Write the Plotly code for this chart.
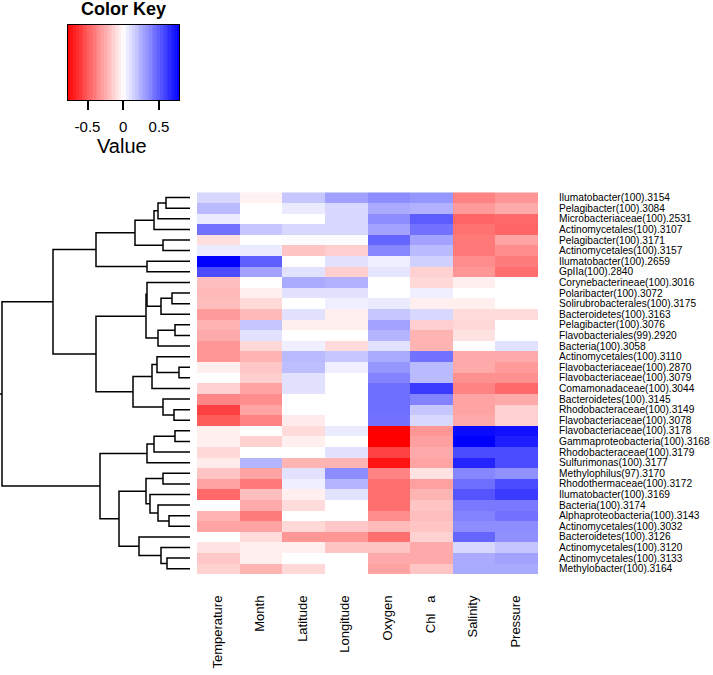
import numpy as np
import plotly.graph_objects as go

W, H = 713, 675


def px(x):
    return x / W


def py(y):
    return 1 - y / H


columns = ["Temperature", "Month", "Latitude", "Longitude", "Oxygen", "Chl   a", "Salinity", "Pressure"]

rows = [
    "Ilumatobacter(100).3154", "Pelagibacter(100).3084", "Microbacteriaceae(100).2531",
    "Actinomycetales(100).3107", "Pelagibacter(100).3171", "Actinomycetales(100).3157",
    "Ilumatobacter(100).2659", "GpIIa(100).2840", "Corynebacterineae(100).3016",
    "Polaribacter(100).3072", "Solirubrobacterales(100).3175", "Bacteroidetes(100).3163",
    "Pelagibacter(100).3076", "Flavobacteriales(99).2920", "Bacteria(100).3058",
    "Actinomycetales(100).3110", "Flavobacteriaceae(100).2870", "Flavobacteriaceae(100).3079",
    "Comamonadaceae(100).3044", "Bacteroidetes(100).3145", "Rhodobacteraceae(100).3149",
    "Flavobacteriaceae(100).3078", "Flavobacteriaceae(100).3178", "Gammaproteobacteria(100).3168",
    "Rhodobacteraceae(100).3179", "Sulfurimonas(100).3177", "Methylophilus(97).3170",
    "Rhodothermaceae(100).3172", "Ilumatobacter(100).3169", "Bacteria(100).3174",
    "Alphaproteobacteria(100).3143", "Actinomycetales(100).3032", "Bacteroidetes(100).3126",
    "Actinomycetales(100).3120", "Actinomycetales(100).3133", "Methylobacter(100).3164",
]

temperature = [0.12, 0.21, 0.06, 0.43, -0.10, 0.06, 0.78, 0.55, -0.20, -0.21, -0.20, -0.31,
               -0.23, -0.26, -0.32, -0.32, -0.05, 0.00, -0.14, -0.37, -0.58, -0.50, -0.05, -0.05,
               -0.12, -0.06, -0.18, -0.28, -0.46, 0.00, -0.23, -0.28, 0.00, -0.09, -0.17, -0.14]
month = [-0.04, 0.00, 0.00, 0.17, 0.00, 0.06, 0.49, 0.28, 0.00, -0.05, -0.12, -0.21,
         0.18, 0.09, -0.12, -0.23, -0.17, -0.15, -0.28, -0.35, -0.28, -0.38, 0.00, -0.14,
         0.00, 0.23, -0.28, -0.41, -0.20, -0.26, -0.40, -0.28, -0.11, -0.05, -0.05, -0.23]
latitude = [0.17, 0.06, 0.00, 0.12, 0.01, -0.18, 0.00, 0.09, 0.26, 0.09, 0.00, 0.09,
            -0.05, 0.00, 0.05, 0.21, 0.20, 0.09, 0.09, 0.00, 0.00, -0.06, -0.11, -0.05,
            0.00, -0.23, 0.09, 0.05, -0.05, -0.11, 0.00, -0.12, -0.32, -0.05, 0.00, -0.12]
longitude = [0.29, 0.12, 0.12, 0.12, 0.01, -0.15, 0.09, -0.15, 0.24, 0.09, 0.05, -0.05,
             -0.05, 0.00, -0.11, 0.17, 0.05, 0.00, 0.00, 0.00, 0.00, 0.00, 0.06, 0.00,
             0.09, -0.23, 0.35, 0.23, 0.09, 0.00, 0.00, -0.17, -0.32, -0.18, 0.00, 0.00]
oxygen = [0.35, 0.26, 0.35, 0.28, 0.47, 0.37, 0.05, 0.08, 0.00, 0.00, 0.06, 0.17,
          0.28, 0.23, 0.09, 0.26, 0.32, 0.38, 0.44, 0.44, 0.44, 0.43, -0.78, -0.78,
          -0.58, -0.72, -0.38, -0.44, -0.44, -0.44, -0.35, -0.21, -0.44, -0.18, -0.26, -0.28]
chl_a = [0.32, 0.24, 0.50, 0.43, 0.28, 0.21, 0.14, -0.14, -0.12, 0.05, -0.05, 0.12,
         -0.15, -0.23, -0.23, 0.43, 0.21, 0.21, 0.60, 0.38, 0.17, 0.12, -0.32, -0.29,
         -0.26, -0.28, -0.09, -0.29, -0.23, -0.18, -0.20, -0.18, -0.14, -0.26, -0.26, -0.18]
salinity = [-0.38, -0.31, -0.47, -0.43, -0.41, -0.41, -0.35, -0.32, -0.05, 0.00, -0.05, -0.11,
            -0.12, -0.09, 0.00, -0.26, -0.26, -0.34, -0.38, -0.28, -0.28, -0.26, 0.75, 0.78,
            0.55, 0.67, 0.37, 0.44, 0.52, 0.41, 0.38, 0.35, 0.47, 0.12, 0.26, 0.26]
pressure = [-0.32, -0.26, -0.46, -0.47, -0.28, -0.35, -0.40, -0.44, 0.00, 0.00, 0.00, -0.11,
            0.00, 0.00, 0.09, -0.26, -0.31, -0.34, -0.46, -0.26, -0.14, -0.14, 0.73, 0.69,
            0.55, 0.55, 0.34, 0.55, 0.60, 0.41, 0.43, 0.35, 0.34, 0.18, 0.28, 0.26]

key_ticks = [-0.5, 0, 0.5]
key_tick_text = ["-0.5", "0", "0.5"]
zlim = 0.78

# Row dendrogram: (child a, child b, merge height); ids >= 36 refer to earlier merges
merges = [
    (0, 1, 24), (36, 2, 32), (37, 3, 36), (4, 5, 27), (38, 39, 55), (6, 7, 43), (40, 41, 94),
    (9, 10, 18), (43, 11, 29), (8, 44, 43), (12, 13, 15), (46, 14, 32), (45, 47, 44),
    (16, 17, 11), (15, 49, 33), (50, 18, 38), (20, 21, 16), (19, 52, 27), (51, 53, 57),
    (48, 54, 94), (42, 55, 137),
    (22, 23, 15), (57, 24, 36), (58, 25, 43), (26, 27, 27), (30, 31, 21), (29, 61, 32),
    (28, 62, 40), (60, 63, 44), (34, 35, 23), (33, 65, 29), (32, 66, 51), (64, 67, 71),
    (59, 68, 90), (56, 69, 188),
]

series = [temperature, month, latitude, longitude, oxygen, chl_a, salinity, pressure]
n = len(rows)
z = [[s[i] for s in series] for i in range(n)]

FONT = "Arial, Liberation Sans, sans-serif"
CSCALE = [[0, "rgb(255,0,0)"], [0.5, "rgb(255,255,255)"], [1, "rgb(0,0,255)"]]

fig = go.Figure()
fig.add_trace(go.Heatmap(
    z=z, x=list(range(len(columns))), y=list(range(n)),
    zmin=-zlim, zmax=zlim, colorscale=CSCALE, showscale=False,
    xaxis="x", yaxis="y",
))

# colour key ramp
edges = np.linspace(-zlim, zlim, 41)
centers = (edges[:-1] + edges[1:]) / 2
fig.add_trace(go.Heatmap(
    z=[centers.tolist()], x=centers.tolist(), y=[0],
    zmin=-zlim, zmax=zlim, colorscale=CSCALE, showscale=False,
    xaxis="x3", yaxis="y3", hoverinfo="skip",
))

pos = {i: (float(i), 0.0) for i in range(n)}
xs, ys = [], []
for k, (a, b, h) in enumerate(merges):
    ya, ha = pos[a]
    yb, hb = pos[b]
    xs += [ha, h, h, hb, None]
    ys += [ya, ya, yb, yb, None]
    pos[n + k] = ((ya + yb) / 2, h)
root_y, root_h = pos[n + len(merges) - 1]
xs += [root_h, root_h + 2, None]
ys += [root_y, root_y, None]

fig.add_trace(go.Scatter(x=xs, y=ys, mode="lines", line=dict(color="black", width=1.5),
                         xaxis="x2", yaxis="y2", hoverinfo="skip", showlegend=False))

ydom = [py(574), py(192.3)]
fig.update_layout(
    width=W, height=H, margin=dict(l=0, r=0, t=0, b=0),
    paper_bgcolor="white", plot_bgcolor="white",
    font=dict(family=FONT, color="black"),
    xaxis=dict(domain=[px(197), px(538)], range=[-0.5, 7.5], tickvals=list(range(len(columns))),
               ticktext=columns, tickangle=-90, ticks="", showgrid=False, zeroline=False,
               showline=False, anchor="y", ticklabelstandoff=18, ticklabelshift=-1,
               tickfont=dict(size=13, color="black", family=FONT)),
    yaxis=dict(domain=ydom, range=[n - 0.5, -0.5], tickvals=list(range(n)), ticktext=rows,
               side="right", ticks="", showgrid=False, zeroline=False, showline=False,
               anchor="x", ticklabelstandoff=20,
               tickfont=dict(size=10.2, color="black", family=FONT)),
    xaxis2=dict(domain=[0, px(190)], range=[190, 0], visible=False, anchor="y2"),
    yaxis2=dict(domain=ydom, range=[n - 0.5, -0.5], visible=False, anchor="x2"),
    xaxis3=dict(domain=[px(67.5), px(179)], range=[-zlim, zlim], anchor="y3",
                tickvals=key_ticks, ticktext=key_tick_text, ticks="outside", ticklen=9,
                tickwidth=1.5, tickcolor="black", showline=True, linecolor="black", linewidth=1,
                mirror=True, showgrid=False, zeroline=False, ticklabelstandoff=4,
                tickfont=dict(size=15, color="black", family=FONT)),
    yaxis3=dict(domain=[py(100), py(25)], range=[-0.5, 0.5], anchor="x3", showticklabels=False,
                ticks="", showline=True, linecolor="black", linewidth=1, mirror=True,
                showgrid=False, zeroline=False),
    annotations=[
        dict(text="<b>Color Key</b>", x=px(123), y=py(8.5), xref="paper", yref="paper",
             xanchor="center", yanchor="middle", showarrow=False,
             font=dict(size=18, color="black", family=FONT)),
        dict(text="Value", x=px(122), y=py(146), xref="paper", yref="paper",
             xanchor="center", yanchor="middle", showarrow=False,
             font=dict(size=20, color="black", family=FONT)),
    ],
)

fig.write_html("out.html", config={"displayModeBar": False},
               post_script="document.body.style.margin='0';document.body.style.overflow='hidden';")
